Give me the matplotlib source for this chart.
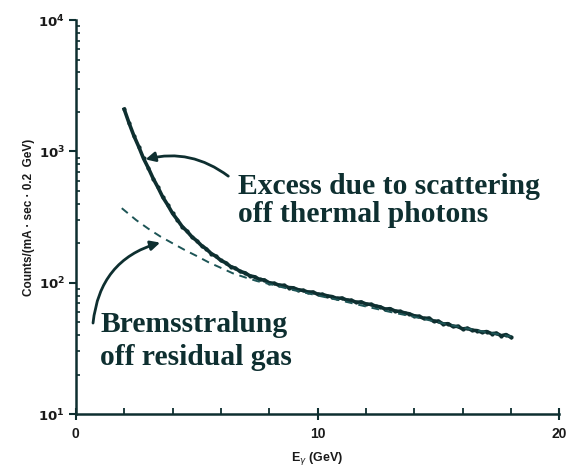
import matplotlib
matplotlib.use("Agg")
import matplotlib.pyplot as plt
from matplotlib.ticker import FixedLocator, FixedFormatter, LogLocator, NullFormatter
import numpy as np

# ---- data ----
energy_solid = [2.0, 2.2, 2.4, 2.6, 2.8, 3.0, 3.2, 3.4, 3.6, 3.8,
                4.0, 4.2, 4.4, 4.6, 4.8, 5.0, 5.2, 5.4, 5.6, 5.8,
                6.0, 6.2, 6.4, 6.6, 6.8, 7.0, 7.2, 7.4, 7.6, 7.8,
                8.0, 8.2, 8.4, 8.6, 8.8, 9.0, 9.2, 9.4, 9.6, 9.8,
                10.0, 10.2, 10.4, 10.6, 10.8, 11.0, 11.2, 11.4, 11.6, 11.8,
                12.0, 12.2, 12.4, 12.6, 12.8, 13.0, 13.2, 13.4, 13.6, 13.8,
                14.0, 14.2, 14.4, 14.6, 14.8, 15.0, 15.2, 15.4, 15.6, 15.8,
                16.0, 16.2, 16.4, 16.6, 16.8, 17.0, 17.2, 17.4, 17.6, 17.8, 18.0]
counts_solid = [2100, 1650, 1320, 1090, 885, 748, 622, 532, 448, 392,
                338, 302, 268, 247, 224, 209, 192, 181, 167, 159,
                148, 142, 133, 129, 122, 119, 113, 111, 106, 105,
                100, 99, 96, 95.5, 92, 91.5, 88.5, 87.5, 85, 85,
                82, 81.5, 79.5, 78.5, 76, 76.5, 74, 73.5, 71, 71.5,
                69, 68.5, 66.5, 65.5, 63, 63.5, 61, 60.5, 59, 58,
                56, 55.5, 53.5, 53.8, 51, 51, 48.5, 48.8, 46.5, 46.6,
                44.5, 45, 43.5, 43.2, 42, 42.5, 41, 41.3, 39.5, 40.3, 38.5]

energy_dashed = [1.9, 2.5, 3.0, 3.5, 4.0, 4.5, 5.0, 5.5, 6.0, 6.5,
                 7.0, 7.5, 8.0, 9.0, 10.0, 11.0, 12.0, 13.0, 14.0, 15.0,
                 16.0, 17.0, 18.0]
counts_dashed = [370, 300, 258, 225, 200, 178, 160, 143, 130, 118,
                 110, 103, 98, 88, 80, 73, 66, 60, 55, 50,
                 45.5, 42, 39]

x_ticks = [0, 10, 20]
x_tick_labels = ["0", "10", "20"]
y_ticks = [10, 100, 1000, 10000]
y_tick_labels = [r"$\mathbf{10^{1}}$", r"$\mathbf{10^{2}}$", r"$\mathbf{10^{3}}$", r"$\mathbf{10^{4}}$"]

ink = "#0e2f30"
txt = "#1a1a1a"

fig = plt.figure(figsize=(5.66, 4.70), dpi=100)
ax = fig.add_axes([0.134, 0.119, 0.854, 0.838])

ax.plot(energy_solid, counts_solid, color=ink, lw=2.6, marker="o", ms=2.0,
        solid_joinstyle="round")
ax.plot(energy_dashed, counts_dashed, color="#1d5556", lw=1.4, ls=(0, (4, 3)))

ax.set_yscale("log")
ax.set_xlim(0, 20)
ax.set_ylim(10, 10000)

for s in ["top", "right"]:
    ax.spines[s].set_visible(False)
for s in ["left", "bottom"]:
    ax.spines[s].set_color(ink)
    ax.spines[s].set_linewidth(1.8)

ax.xaxis.set_major_locator(FixedLocator(x_ticks))
ax.xaxis.set_major_formatter(FixedFormatter(x_tick_labels))
ax.xaxis.set_minor_locator(FixedLocator([2, 4, 6, 8, 12, 14, 16, 18]))
ax.yaxis.set_major_locator(FixedLocator(y_ticks))
ax.yaxis.set_major_formatter(FixedFormatter(y_tick_labels))
ax.yaxis.set_minor_locator(LogLocator(base=10, subs=np.arange(2, 10)))
ax.yaxis.set_minor_formatter(NullFormatter())

ax.tick_params(axis="x", which="major", direction="inout", length=8, width=1.5,
               color=ink, labelsize=10, labelcolor=txt, pad=5)
ax.tick_params(axis="x", which="minor", direction="in", length=4, width=1.3, color=ink)
ax.tick_params(axis="y", which="major", direction="out", length=5, width=1.5,
               color=ink, labelsize=9.5, labelcolor=txt, pad=3)
ax.tick_params(axis="y", which="minor", direction="in", length=3, width=1.2, color=ink)
for lab in ax.get_xticklabels():
    lab.set_fontweight("bold")
    lab.set_family("Liberation Sans")

ax.set_xlabel(r"E$_\gamma$ (GeV)", fontsize=9, fontweight="bold", color=txt,
              family="Liberation Sans", labelpad=7)
ax.set_ylabel("Counts/(mA \u00b7 sec \u00b7 0.2  GeV)", fontsize=8.5, fontweight="bold",
              color=txt, family="Liberation Sans", labelpad=2)

serif = dict(family="Liberation Serif", fontweight="bold", fontsize=21.3, color=ink,
             va="baseline", ha="left", transform=ax.transAxes)
ax.text(0.335, 0.558, "Excess due to scattering", **serif)
ax.text(0.335, 0.487, "off thermal photons", **serif)
ax.text(0.050, 0.208, "Bremsstralung", **serif)
ax.text(0.050, 0.124, "off residual gas", **serif)

ax.annotate("", xy=(2.77, 860), xytext=(6.4, 630),
            arrowprops=dict(arrowstyle="-|>", color=ink, lw=2.0, mutation_scale=14,
                            connectionstyle="arc3,rad=0.25"))
ax.annotate("", xy=(3.6, 205), xytext=(0.7, 47),
            arrowprops=dict(arrowstyle="-|>", color=ink, lw=2.0, mutation_scale=14,
                            connectionstyle="arc3,rad=-0.35"))

fig.savefig("out.png", dpi=100, facecolor="white")
